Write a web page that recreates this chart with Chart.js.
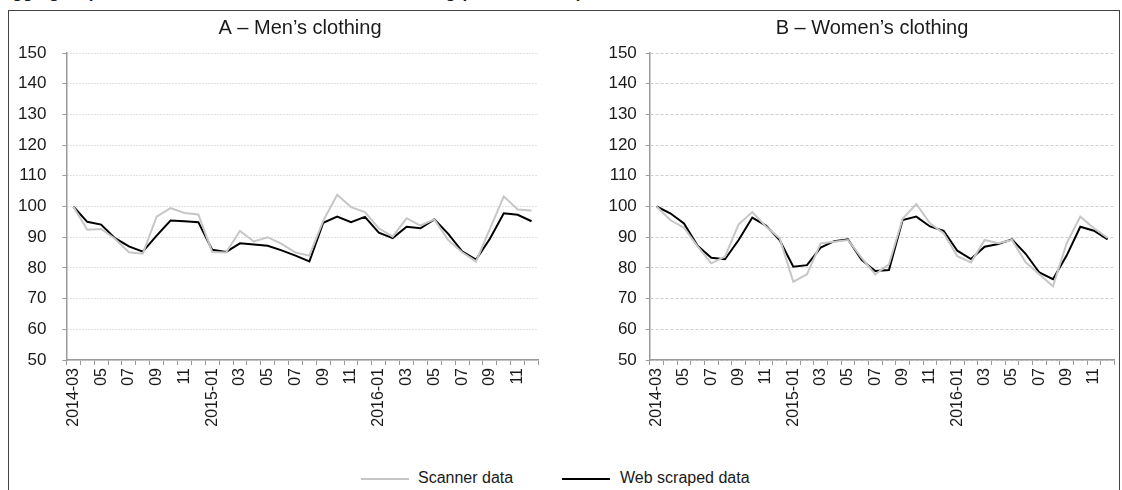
<!DOCTYPE html>
<html>
<head>
<meta charset="utf-8">
<script src="https://cdn.jsdelivr.net/npm/chart.js@4.4.1/dist/chart.umd.min.js"></script>
<style>
  html, body { margin:0; padding:0; width:1122px; height:490px; overflow:hidden; background:#fff;
               font-family:"Liberation Sans", Arial, Helvetica, sans-serif; color:#1a1a1a; }
  #frame { position:absolute; left:8px; top:10px; width:1112px; height:520px; border:1px solid #444; box-sizing:border-box; }
  #heading { position:absolute; left:0; top:-16px; white-space:nowrap; font-weight:bold; font-size:17px; line-height:17px; }
  canvas { position:absolute; top:0; }
  #men { left:0; }
  #women { left:560px; }
  .legend { position:absolute; top:468px; left:0; width:1122px; height:20px; font-size:16px; line-height:20px; }
  .legend .sw { position:absolute; top:10px; height:2px; width:48px; }
  .legend .lb { position:absolute; top:0; white-space:nowrap; }
</style>
</head>
<body>
<div id="frame"></div>
<div id="heading">Aggregate price indices for men’s and women’s clothing (2014-03 = 100)</div>
<canvas id="men" width="600" height="440"></canvas>
<canvas id="women" width="570" height="440"></canvas>
<div class="legend">
  <span class="sw" style="left:361px;background:#c6c6c6"></span><span class="lb" style="left:418px">Scanner data</span>
  <span class="sw" style="left:562px;background:#000"></span><span class="lb" style="left:620px">Web scraped data</span>
</div>
<script>
// Monthly categories, 2014-03 to 2016-12
const months = [
  '2014-03','2014-04','2014-05','2014-06','2014-07','2014-08','2014-09','2014-10','2014-11','2014-12',
  '2015-01','2015-02','2015-03','2015-04','2015-05','2015-06','2015-07','2015-08','2015-09','2015-10','2015-11','2015-12',
  '2016-01','2016-02','2016-03','2016-04','2016-05','2016-06','2016-07','2016-08','2016-09','2016-10','2016-11','2016-12'
];
// Text printed under every other month
const tickLabels = [
  '2014-03','','05','','07','','09','','11','',
  '2015-01','','03','','05','','07','','09','','11','',
  '2016-01','','03','','05','','07','','09','','11',''
];

// Men's clothing indices
const menScanner = [100,92.4,92.7,89.5,85.1,84.6,96.7,99.5,97.9,97.4,85.2,85.0,92.0,88.6,90.0,87.8,85.0,84.0,
                    95.4,103.8,99.8,98.2,92.9,90.2,96.2,93.8,95.8,89.1,85.1,82.1,92.7,103.3,99.0,98.7];
const menWeb     = [100,95.0,94.1,89.7,87.0,85.3,90.5,95.4,95.2,94.9,85.9,85.2,88.0,87.6,87.2,85.7,84.0,82.1,
                    94.7,96.7,94.9,96.6,91.5,89.7,93.4,92.9,95.8,91.1,85.4,82.7,89.5,97.8,97.3,95.2];

// Women's clothing indices
const womenScanner = [100,95.6,93.1,87.0,81.5,83.7,94.2,98.2,93.5,89.7,75.5,77.9,88.0,88.5,89.1,83.3,77.9,81.2,
                      96.0,100.8,94.5,91.3,83.8,81.8,89.1,88.0,89.1,81.8,77.9,74.0,88.0,96.7,92.9,89.8];
const womenWeb     = [100,97.8,94.5,87.2,83.3,82.8,89.1,96.4,93.8,89.1,80.4,80.9,86.6,88.7,89.3,82.6,79.0,79.3,
                      95.6,96.7,93.5,92.1,85.6,82.9,86.9,87.8,89.3,84.6,78.5,76.3,84.0,93.4,92.1,89.3];

const FONT = '"Liberation Sans", Arial, Helvetica, sans-serif';
const TEXT = '#1a1a1a';
const AXIS = '#9a9a9a';

function panelTitle(text, cx) {
  return {
    id: 'panelTitle',
    afterDraw(chart) {
      const c = chart.ctx;
      c.save();
      c.font = '20px ' + FONT;
      c.fillStyle = TEXT;
      c.textAlign = 'center';
      c.textBaseline = 'middle';
      c.fillText(text, cx, 28);
      c.restore();
    }
  };
}

function buildChart(id, scanner, web, o) {
  return new Chart(document.getElementById(id), {
    type: 'line',
    data: {
      labels: months,
      datasets: [
        { label: 'Scanner data', data: scanner, borderColor: '#c6c6c6', borderWidth: 2, pointRadius: 0, tension: 0 },
        { label: 'Web scraped data', data: web, borderColor: '#000000', borderWidth: 2, pointRadius: 0, tension: 0 }
      ]
    },
    options: {
      responsive: false,
      animation: false,
      devicePixelRatio: 1,
      layout: { padding: { top: 53, left: 0, right: o.padRight, bottom: 0 } },
      plugins: { legend: { display: false }, tooltip: { enabled: false }, title: { display: false } },
      scales: {
        x: {
          type: 'category',
          offset: true,
          grid: { display: true, drawOnChartArea: false, drawTicks: true, tickLength: 5, tickColor: AXIS, color: AXIS, offset: true },
          border: { display: true, color: AXIS, width: 1.5 },
          ticks: {
            autoSkip: false, maxRotation: 90, minRotation: 90, padding: 3,
            color: TEXT, font: { family: FONT, size: 16 },
            callback: (v, i) => tickLabels[i]
          },
          afterFit: (s) => { s.height = 80; }
        },
        y: {
          min: 50, max: 150,
          ticks: { stepSize: 10, padding: o.labelPad, color: TEXT, font: { family: FONT, size: 17 } },
          grid: { color: o.gridColor, lineWidth: 1, drawTicks: true, tickLength: 4, tickColor: AXIS },
          border: { display: true, color: AXIS, width: 1.5, dash: o.dash },
          afterFit: (s) => { s.width = o.axisLeft; }
        }
      }
    },
    plugins: [panelTitle(o.title, o.titleX)]
  });
}

buildChart('men', menScanner, menWeb, {
  title: 'A – Men’s clothing', titleX: 300,
  axisLeft: 66.4, padRight: 61.5, labelPad: 16,
  gridColor: '#c4c4c4', dash: [1, 2]
});
buildChart('women', womenScanner, womenWeb, {
  title: 'B – Women’s clothing', titleX: 312,
  axisLeft: 89.8, padRight: 11.4, labelPad: 9,
  gridColor: '#cfcfcf', dash: [3, 2]
});
</script>
</body>
</html>
